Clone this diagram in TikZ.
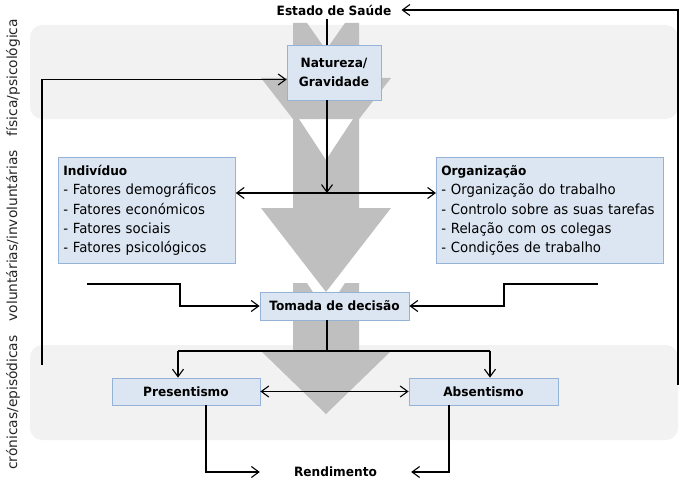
\documentclass[tikz,border=0pt]{standalone}
\usepackage{fontspec}
\setmainfont{DejaVu Sans}[FakeStretch=0.95]
\newfontfamily\sidefont{DejaVu Sans}
\usetikzlibrary{arrows.meta,calc}
\definecolor{bandc}{RGB}{242,242,242}
\definecolor{arrg}{RGB}{191,191,191}
\definecolor{boxf}{RGB}{220,230,242}
\definecolor{boxd}{RGB}{149,179,215}
\begin{document}
\begin{tikzpicture}[x=1pt,y=-1pt,
  bfnt/.style={font=\fontsize{12.8}{19}\selectfont\bfseries},
  box/.style={draw=boxd, fill=boxf, line width=0.8pt, inner sep=0pt, bfnt},
  lstbox/.style={box, anchor=north west, font=\fontsize{14}{19.3}\selectfont, align=left},
  con/.style={line width=1.1pt, black},
  arr/.style={con, -{Straight Barb[length=7.5pt,width=11pt]}},
  arrtwo/.style={con, {Straight Barb[length=7.5pt,width=11pt]}-{Straight Barb[length=7.5pt,width=11pt]}},
  band/.style={fill=bandc, rounded corners=12pt},
  garr/.style={fill=arrg}
]
\useasboundingbox (0,0) rectangle (680,487);
% bands
\fill[band] (30,25) rectangle (678,119);
\fill[band] (30,345) rectangle (678,440);
% big grey arrows
\fill[garr] (293,23) -- (307,23) -- (326,50) -- (345,23) -- (359,23) -- (359,78) -- (391,78) -- (359,119) -- (293,119) -- (261,78) -- (293,78) -- cycle;
\fill[garr] (293,119) -- (299,119) -- (326,160) -- (353,119) -- (359,119) -- (359,208) -- (391,208) -- (326,292) -- (261,208) -- (293,208) -- cycle;
\fill[garr] (293,283) -- (307,283) -- (326,312) -- (345,283) -- (359,283) -- (359,352) -- (390,352) -- (326,414) -- (262,352) -- (293,352) -- cycle;
% side text
\node[font=\sidefont\fontsize{13.8}{16}\selectfont, text=black!85, rotate=90, anchor=west, inner sep=0pt] (side) at (13,470)
  {crónicas/episódicas\hspace{14pt}voluntárias/involuntárias\hspace{14pt}física/psicológica};
% nodes
\node[bfnt, inner xsep=10pt] (est) at (334,10) {Estado de Saúde};
\node[box, minimum width=94pt, minimum height=55pt, align=center] (nat) at (334,72.5) {Natureza/\\Gravidade};
\node[lstbox, minimum width=177pt, minimum height=106pt, text width=167pt] (ind) at (58,157)
  {{\bfseries\fontsize{12.8}{19.3}\selectfont Indivíduo}\\- Fatores demográficos\\- Fatores económicos\\- Fatores sociais\\- Fatores psicológicos};
\node[lstbox, minimum width=227pt, minimum height=106pt, text width=217pt] (org) at (436,157)
  {{\bfseries\fontsize{12.8}{19.3}\selectfont Organização}\\- Organização do trabalho\\- Controlo sobre as suas tarefas\\- Relação com os colegas\\- Condições de trabalho};
\node[box, minimum width=149pt, minimum height=28pt] (tom) at (334.5,306) {Tomada de decisão};
\node[box, minimum width=148pt, minimum height=27pt] (pres) at (186,391.5) {Presentismo};
\node[box, minimum width=149pt, minimum height=27pt] (abs) at (483.5,391.5) {Absentismo};
\node[bfnt, minimum width=151pt, inner sep=0pt] (ren) at (335.5,472) {Rendimento};
% helper coordinates
\coordinate (sp) at (327,0);
\coordinate (j1) at (327,193);
\coordinate (rb) at (678,385);
\coordinate (lb) at (42,365);
\coordinate (natin) at ($(nat.west)+(0,7)$);
\coordinate (li) at (87,284);
\coordinate (ri) at (598,284);
\coordinate (jb) at (327,351);
\coordinate (bl) at (178,351);
\coordinate (br) at (490,351);
\coordinate (pl) at (206,0);
\coordinate (al) at (449,0);
% connectors
\draw[con] (est.south -| sp) -- (sp |- nat.north);
\draw[arr] (sp |- nat.south) -- (j1);
\draw[arrtwo] (ind.east |- j1) -- (org.west |- j1);
\draw[arr] (rb) |- (est.east);
\draw[arr] (lb) |- (natin);
\draw[arr] (li) -- ++(93,0) |- (tom.west);
\draw[arr] (ri) -- ++(-94,0) |- (tom.east);
\draw[con] (sp |- tom.south) -- (jb);
\draw[con] (bl) -- (br);
\draw[arr] (bl) -- (bl |- pres.north);
\draw[arr] (br) -- (br |- abs.north);
\draw[arrtwo] (pres.east) -- (abs.west);
\draw[arr] (pl |- pres.south) |- (ren.west);
\draw[arr] (al |- abs.south) |- (ren.east);
\end{tikzpicture}
\end{document}
